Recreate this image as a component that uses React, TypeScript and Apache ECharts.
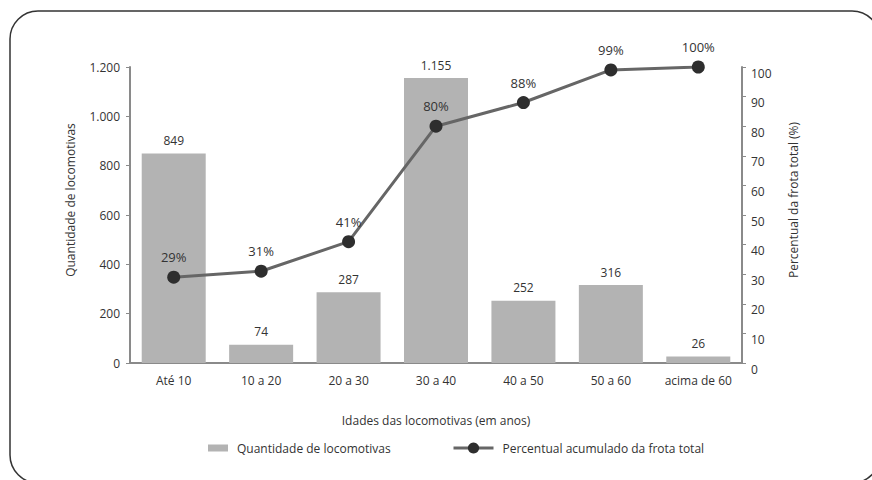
import React, { useEffect, useRef } from "react";
import * as echarts from "echarts";

const categories = ["Até 10", "10 a 20", "20 a 30", "30 a 40", "40 a 50", "50 a 60", "acima de 60"];
const quantidade = [849, 74, 287, 1155, 252, 316, 26];
const percentualAcumulado = [29, 31, 41, 80, 88, 99, 100];

const barName = "Quantidade de locomotivas";
const lineName = "Percentual acumulado da frota total";
const xAxisName = "Idades das locomotivas (em anos)";
const leftAxisName = "Quantidade de locomotivas";
const rightAxisName = "Percentual da frota total (%)";

const FONT = "'Open Sans', 'Noto Sans', sans-serif";
const TEXT = "#333333";
const AXIS = "#8a8a8a";

// thousands separator with a dot (pt-BR)
const fmt = (v: number) => String(v).replace(/\B(?=(\d{3})+(?!\d))/g, ".");

export default function App() {
  const ref = useRef<HTMLDivElement>(null);

  useEffect(() => {
    if (!ref.current) return;
    const chart = echarts.init(ref.current, undefined, { renderer: "svg" });
    chart.setOption({
      animation: false,
      backgroundColor: "#ffffff",
      textStyle: { fontFamily: FONT, color: TEXT },
      grid: { left: 130, right: 130, top: 67, bottom: 117 },
      legend: [
        {
          left: 203,
          top: 437,
          itemWidth: 20,
          itemHeight: 7,
          icon: "rect",
          data: [barName],
          textStyle: { fontFamily: FONT, fontSize: 12, color: TEXT, padding: [0, 0, 0, 4] },
        },
        {
          left: 447,
          top: 437,
          itemWidth: 40,
          itemHeight: 14,
          lineStyle: { width: 3 },
          data: [lineName],
          textStyle: { fontFamily: FONT, fontSize: 12, color: TEXT, padding: [0, 0, 0, 4] },
        },
      ],
      xAxis: {
        type: "category",
        data: categories,
        name: xAxisName,
        nameLocation: "middle",
        nameGap: 51,
        nameTextStyle: { fontFamily: FONT, fontSize: 12, color: TEXT },
        axisLine: { lineStyle: { color: AXIS, width: 2 } },
        axisTick: { show: false },
        axisLabel: { interval: 0, fontFamily: FONT, fontSize: 12, color: TEXT, margin: 11 },
      },
      yAxis: [
        {
          type: "value",
          min: 0,
          max: 1200,
          interval: 200,
          position: "left",
          splitLine: { show: false },
          axisLine: { show: true, lineStyle: { color: AXIS, width: 2 } },
          axisTick: { show: true, length: 4, lineStyle: { color: AXIS, width: 1 } },
          axisLabel: {
            fontFamily: FONT,
            fontSize: 12,
            color: TEXT,
            margin: 10,
            formatter: (v: number) => fmt(v),
          },
        },
        {
          type: "value",
          min: 0,
          max: 100,
          interval: 10,
          position: "right",
          splitLine: { show: false },
          axisLine: { show: true, lineStyle: { color: AXIS, width: 2 } },
          axisTick: { show: true, length: 4, lineStyle: { color: AXIS, width: 1 } },
          axisLabel: {
            fontFamily: FONT,
            fontSize: 12,
            color: TEXT,
            margin: 9,
            verticalAlign: "top",
          },
        },
      ],
      series: [
        {
          name: barName,
          type: "bar",
          yAxisIndex: 0,
          data: quantidade,
          barWidth: 64,
          itemStyle: { color: "#b3b3b3" },
          label: {
            show: true,
            position: "top",
            distance: 7,
            fontFamily: FONT,
            fontSize: 12,
            color: TEXT,
            formatter: (p: any) => fmt(p.value),
          },
          z: 1,
        },
        {
          name: lineName,
          type: "line",
          yAxisIndex: 1,
          data: percentualAcumulado,
          symbol: "circle",
          symbolSize: 13,
          lineStyle: { color: "#666666", width: 3 },
          itemStyle: { color: "#2e2e2e" },
          label: {
            show: true,
            position: "top",
            distance: 7,
            fontFamily: FONT,
            fontSize: 13,
            color: TEXT,
            formatter: (p: any) => `${p.value}%`,
          },
          z: 3,
        },
      ],
      graphic: [
        {
          type: "rect",
          shape: { x: 10, y: 11, width: 870, height: 472, r: 28 },
          style: { fill: "none", stroke: "#333333", lineWidth: 1.5 },
          silent: true,
        },
        {
          type: "text",
          x: 70,
          y: 200,
          rotation: Math.PI / 2,
          style: {
            text: leftAxisName,
            fontFamily: FONT,
            fontSize: 12,
            fill: TEXT,
            align: "center",
            verticalAlign: "middle",
          },
        },
        {
          type: "text",
          x: 793,
          y: 200,
          rotation: Math.PI / 2,
          style: {
            text: rightAxisName,
            fontFamily: FONT,
            fontSize: 12,
            fill: TEXT,
            align: "center",
            verticalAlign: "middle",
          },
        },
      ],
    });
    return () => chart.dispose();
  }, []);

  return (
    <div
      ref={ref}
      style={{ position: "fixed", left: 0, top: 0, width: 872, height: 480 }}
    />
  );
}
